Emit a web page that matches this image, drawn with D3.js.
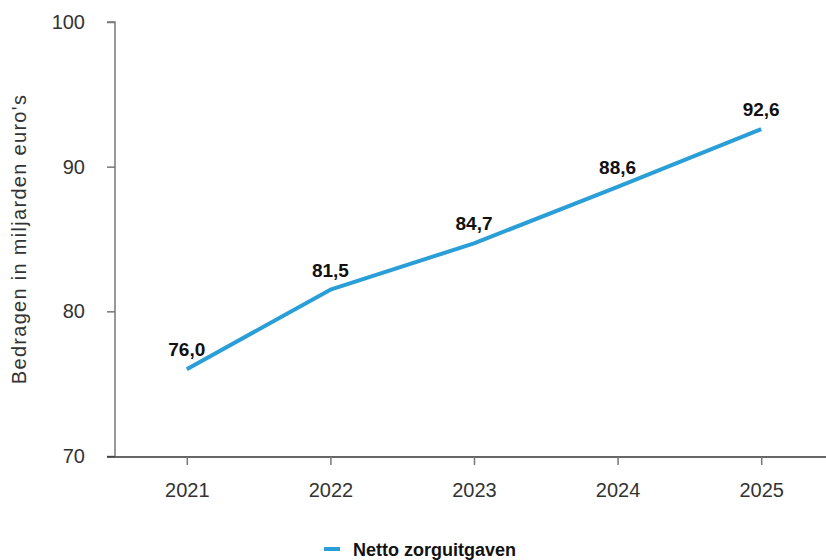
<!DOCTYPE html>
<html>
<head>
<meta charset="utf-8">
<script src="https://cdn.jsdelivr.net/npm/d3@7"></script>
<style>
  body { margin: 0; background: #fff; }
  svg { display: block; font-family: "Liberation Sans", Arial, sans-serif; }
</style>
</head>
<body>
<div id="chart"></div>
<script>
// jaren en netto zorguitgaven (mld euro)
var years = ['2021', '2022', '2023', '2024', '2025'];
var values = [76.0, 81.5, 84.7, 88.6, 92.6];
var yTicks = [70, 80, 90, 100];
var seriesName = 'Netto zorguitgaven';

var width = 826, height = 560;
var lineColor = '#2a9ed6';
var fontFam = '"Liberation Sans", Arial, sans-serif';

var svg = d3.select('#chart')
  .append('svg')
  .attr('width', width)
  .attr('height', height);

var x = d3.scalePoint()
  .domain(years)
  .range([115, 833])
  .padding(0.5);

var y = d3.scaleLinear()
  .domain([70, 100])
  .range([456, 22]);

// y as
var yAxis = svg.append('g')
  .attr('transform', 'translate(115,0)')
  .call(d3.axisLeft(y).tickValues(yTicks).tickSize(8).tickPadding(22));
yAxis.select('.domain').attr('stroke', '#777').attr('stroke-width', 1.5).attr('d', 'M-8,22H0V456');
yAxis.selectAll('.tick line').attr('stroke', '#777').attr('stroke-width', 1.5);
yAxis.selectAll('.tick text')
  .attr('fill', '#333')
  .attr('font-size', '20px')
  .attr('font-family', fontFam);

// x as
var xAxis = svg.append('g')
  .attr('transform', 'translate(0,457)')
  .call(d3.axisBottom(x).tickSize(8).tickPadding(18));
xAxis.select('.domain').attr('stroke', '#333').attr('stroke-width', 1.5).attr('d', 'M107,0H' + width);
xAxis.selectAll('.tick line').attr('stroke', '#777').attr('stroke-width', 1.5);
xAxis.selectAll('.tick text')
  .attr('fill', '#333')
  .attr('font-size', '20px')
  .attr('font-family', fontFam);

// as titel
svg.append('text')
  .attr('transform', 'translate(26,239) rotate(-90)')
  .attr('text-anchor', 'middle')
  .attr('fill', '#333')
  .attr('font-size', '20px')
  .attr('letter-spacing', '1.3px')
  .text('Bedragen in miljarden euro\'s');

var data = years.map(function(d, i) { return {year: d, value: values[i]}; });

var line = d3.line()
  .x(function(d) { return x(d.year); })
  .y(function(d) { return y(d.value); });

svg.append('path')
  .datum(data)
  .attr('fill', 'none')
  .attr('stroke', lineColor)
  .attr('stroke-width', 4)
  .attr('stroke-linejoin', 'round')
  .attr('d', line);

svg.selectAll('text.label')
  .data(data)
  .enter()
  .append('text')
  .attr('class', 'label')
  .attr('x', function(d) { return x(d.year); })
  .attr('y', function(d) { return y(d.value) - 13; })
  .attr('text-anchor', 'middle')
  .attr('font-size', '19px')
  .attr('font-weight', 'bold')
  .attr('fill', '#111')
  .text(function(d) { return d3.format('.1f')(d.value).replace('.', ','); });

// legenda
var legend = svg.append('g').attr('transform', 'translate(324,549)');
legend.append('line')
  .attr('x1', 0).attr('x2', 16)
  .attr('stroke', lineColor)
  .attr('stroke-width', 4);
legend.append('text')
  .attr('x', 29)
  .attr('y', 7)
  .attr('font-size', '18px')
  .attr('font-weight', 'bold')
  .attr('fill', '#111')
  .text(seriesName);
</script>
</body>
</html>
